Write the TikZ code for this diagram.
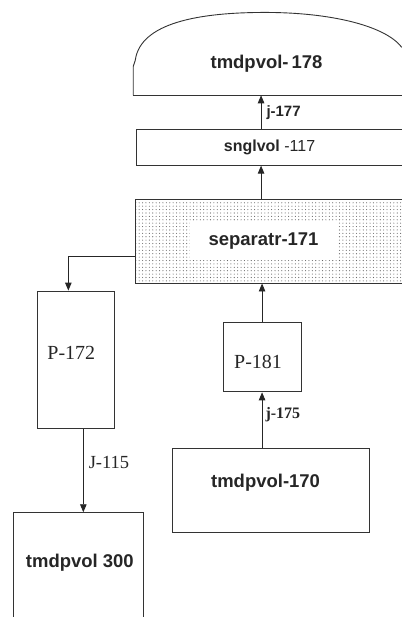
\documentclass[tikz,border=0pt]{standalone}
\usepackage{fontspec}
\setmainfont{Liberation Serif}
\newfontfamily\arial{Liberation Sans}
\usetikzlibrary{arrows.meta,patterns.meta}
\tikzdeclarepattern{
  name=sparsedots,
  type=uncolored,
  bottom left={(-1.7pt,-1.7pt)},
  top right={(1.7pt,1.7pt)},
  tile size={(3.4pt,3.4pt)},
  code={\pgfpathcircle{\pgfpointorigin}{0.55pt}\pgfusepath{fill}}
}
\begin{document}
\begin{tikzpicture}[x=1pt,y=-1pt,
  line width=0.9pt,
  every path/.style={draw=black!80},
  box/.style={draw=black!80,line width=0.9pt,rectangle,inner sep=0pt},
  sanslbl/.style={font=\arial\bfseries\fontsize{18.5}{20}\selectfont,text=black!85,inner sep=0pt},
  seriflbl/.style={font=\fontsize{20}{22}\selectfont,text=black!85,inner sep=0pt},
  arr/.style={-{Triangle[length=8pt,width=6.5pt]},draw=black!85,line width=0.9pt}]
\useasboundingbox (0,0) rectangle (401,617);
\fill[white] (0,0) rectangle (401,617);
% dome
\draw (133,95) -- (133,66) -- (135,60) .. controls (140,22) and (200,12) .. (265,12)
   .. controls (330,12) and (385,25) .. (402,47);
\draw (133,95) -- (402,95);
\coordinate (domebase) at (261,95);
\node[sanslbl] (t178) at (266.5,63) {tmdpvol-\,178};
% snglvol box
\node[box,minimum width=274pt,minimum height=36pt] (sngl) at (273,147) {};
\node[inner sep=0pt,text=black!85] (sngltxt) at (269.5,147)
  {\arial\fontsize{16}{18}\selectfont\textbf{snglvol} -117};
% separator
\node[box,pattern=sparsedots,pattern color=black!60,minimum width=270pt,minimum height=84pt] (sep) at (270,241) {};
\node[sanslbl,fill=white,minimum width=147pt,minimum height=38pt] (septxt) at (263.5,241) {separatr-171};
% P-172
\node[box,minimum width=77pt,minimum height=138pt] (p172) at (75.5,360) {};
\node[seriflbl] (p172t) at (71,353) {P-172};
% P-181
\node[box,minimum width=78pt,minimum height=70pt] (p181) at (262,357) {};
\node[seriflbl] (p181t) at (258,362) {P-181};
% tmdpvol-170
\node[box,minimum width=198pt,minimum height=84pt] (t170) at (271,491) {};
\node[sanslbl] (t170t) at (265.5,483) {tmdpvol-170};
% tmdpvol 300
\node[box,minimum width=130pt,minimum height=130pt] (t300) at (78,578) {};
\node[sanslbl] (t300t) at (79.5,563) {tmdpvol 300};
% connectors
\draw[arr] (sngl.north -| domebase) -- (domebase);
\node[font=\arial\bfseries\fontsize{15}{17}\selectfont,text=black!85,anchor=west,inner sep=0pt] (j177) at (266,112) {j-177};
\draw[arr] (sep.north -| domebase) -- (sngl.south -| domebase);
\coordinate (sepleft) at (sep.west |- 0,256);
\coordinate (p172in) at (68,256);
\draw[arr] (sepleft) -- (p172in) -- (p172.north -| p172in);
\coordinate (p181x) at (262,0);
\draw[arr] (p181.north -| p181x) -- (sep.south -| p181x);
\draw[arr] (t170.north -| p181x) -- (p181.south -| p181x);
\node[font=\bfseries\fontsize{16}{18}\selectfont,text=black!85,anchor=west,inner sep=0pt] (j175) at (265,415) {j-175};
\coordinate (jx) at (83,0);
\draw[arr] (p172.south -| jx) -- (t300.north -| jx);
\node[font=\fontsize{18.5}{20}\selectfont,text=black!85,anchor=west,inner sep=0pt] (j115) at (88,463) {J-115};
\end{tikzpicture}
\end{document}
